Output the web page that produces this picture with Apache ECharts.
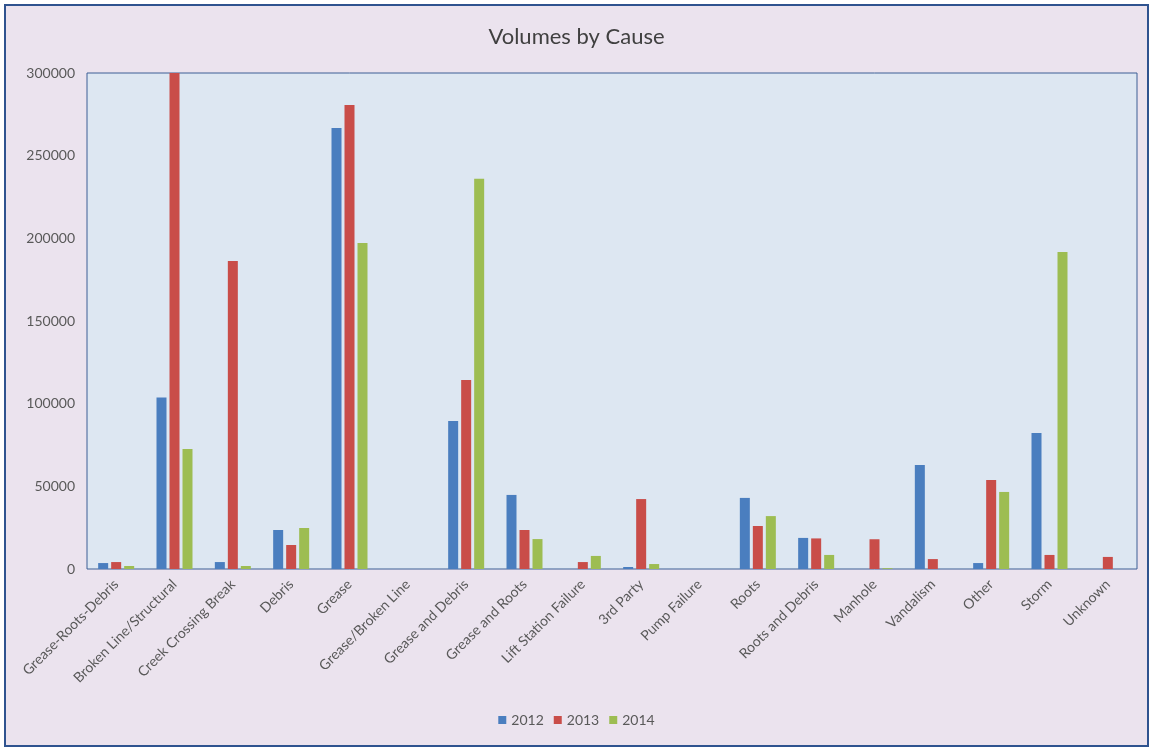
<!DOCTYPE html>
<html>
<head>
<meta charset="utf-8">
<title>Volumes by Cause</title>
<script src="https://cdn.jsdelivr.net/npm/echarts@6/dist/echarts.min.js"></script>
<style>
  html, body { margin: 0; padding: 0; background: #ffffff; }
  #frame {
    position: absolute; left: 4px; top: 4px; width: 1141px; height: 739px;
    border: 2px solid #2f538f; background: #ebe3ee; box-sizing: content-box;
  }
  #chart { width: 1141px; height: 739px; }
</style>
</head>
<body>
<div id="frame"><div id="chart"></div></div>
<script>
// Causes on the category axis
const causes = [
  'Grease-Roots-Debris', 'Broken Line/Structural', 'Creek Crossing Break', 'Debris',
  'Grease', 'Grease/Broken Line', 'Grease and Debris', 'Grease and Roots',
  'Lift Station Failure', '3rd Party', 'Pump Failure', 'Roots', 'Roots and Debris',
  'Manhole', 'Vandalism', 'Other', 'Storm', 'Unknown'
];

// Volumes per year, in cause order
const vol2012 = [3600, 103800, 4200, 23600, 266800, 0, 89500, 44800, 0, 1200, 0, 43000, 18800, 0, 62900, 3600, 82300, 0];
const vol2013 = [4200, 300000, 186300, 14500, 280700, 0, 114300, 23600, 4200, 42300, 0, 26000, 18500, 18000, 6000, 53800, 8500, 7300];
const vol2014 = [1800, 72600, 1800, 24800, 197200, 0, 236000, 18100, 7900, 3000, 0, 32000, 8500, 500, 0, 46600, 191800, 0];

const years = ['2012', '2013', '2014'];
const yTicks = { min: 0, max: 300000, step: 50000 };

const colors = ['#4a7ebf', '#c94d49', '#9dbd52'];
const font = 'Lato, "Open Sans", sans-serif';

const chart = echarts.init(document.getElementById('chart'));

const seriesData = [vol2012, vol2013, vol2014];

chart.setOption({
  backgroundColor: '#ebe3ee',
  color: colors,
  textStyle: { fontFamily: font },
  title: {
    text: 'Volumes by Cause',
    left: 'center',
    top: 15,
    textStyle: { fontFamily: font, fontSize: 22, fontWeight: 'normal', color: '#404040' }
  },
  legend: {
    data: years,
    bottom: 13,
    left: 'center',
    icon: 'rect',
    itemWidth: 8,
    itemHeight: 8,
    itemGap: 10,
    textStyle: { fontFamily: font, fontSize: 14, color: '#595959' }
  },
  grid: {
    left: 81,
    right: 10,
    top: 67,
    bottom: 176,
    show: true,
    backgroundColor: '#dde7f2',
    borderColor: '#3d5f95',
    borderWidth: 1
  },
  xAxis: {
    type: 'category',
    data: causes,
    axisLine: { show: false },
    axisTick: { show: false },
    axisLabel: {
      rotate: 45,
      interval: 0,
      margin: 13,
      fontFamily: font,
      fontSize: 14,
      color: '#595959'
    }
  },
  yAxis: {
    type: 'value',
    min: yTicks.min,
    max: yTicks.max,
    interval: yTicks.step,
    axisLine: { show: false },
    axisTick: { show: false },
    splitLine: { show: false },
    axisLabel: {
      fontFamily: font, fontSize: 14, color: '#595959', margin: 12,
      formatter: v => String(v)
    }
  },
  series: years.map((y, i) => ({
    name: y,
    type: 'bar',
    data: seriesData[i],
    barWidth: 10,
    barGap: '30%',
    itemStyle: { color: colors[i] }
  }))
});
</script>
</body>
</html>
